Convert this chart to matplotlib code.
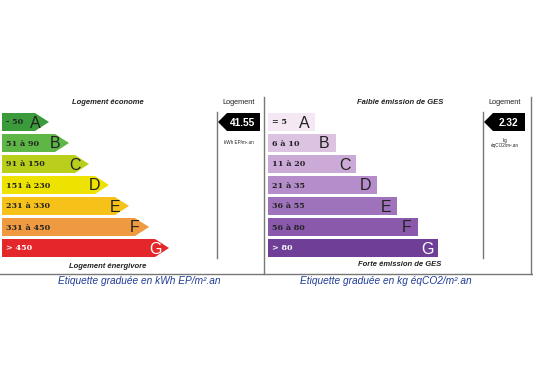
import matplotlib.pyplot as plt
from matplotlib.patches import Polygon

# Etiquette energie (DPE)
energie_classes = ["A", "B", "C", "D", "E", "F", "G"]
energie_tranches = ["- 50", "51 à 90", "91 à 150", "151 à 230", "231 à 330", "331 à 450", "> 450"]
energie_couleurs = ["#3b9b3b", "#5db645", "#b9cf1c", "#eee300", "#f6c21a", "#ef9a40", "#e4272a"]
energie_valeur = "41.55"
energie_unite = "kWh EP/m².an"

# Etiquette GES
ges_classes = ["A", "B", "C", "D", "E", "F", "G"]
ges_tranches = ["= 5", "6 à 10", "11 à 20", "21 à 35", "36 à 55", "56 à 80", "> 80"]
ges_couleurs = ["#f3e8f3", "#dcc3e2", "#cbaad8", "#b48dca", "#9f73bb", "#8a59ac", "#6f3f98"]
ges_valeur = "2.32"
ges_unite = "kg\néqCO2/m².an"

fig = plt.figure(figsize=(5.33, 3.88), dpi=100)
ax = fig.add_axes([0, 0, 1, 1])
ax.set_xlim(0, 533)
ax.set_ylim(388, 0)
ax.axis("off")

haut = 18
pas = 21
y0 = 113
sans = "Liberation Sans"
serif = "DejaVu Serif"
gris = "#777777"
fs_tr = 5.8
fs_cl = 11.5

# --- panneau energie ---
for i, (cl, tr, c) in enumerate(zip(energie_classes, energie_tranches, energie_couleurs)):
    y = y0 + i * pas
    fin = 35 + 20 * i
    ax.barh(y + haut / 2, fin - 2, left=2, height=haut, color=c, lw=0)
    ax.add_patch(Polygon([(fin, y), (fin + 14, y + haut / 2), (fin, y + haut)],
                         closed=True, color=c, lw=0))
    tc = "white" if cl == "G" else "#222222"
    ax.text(6, y + haut / 2 + 0.5, tr, fontsize=fs_tr, family=serif, weight="bold",
            color=tc, va="center", ha="left")
    ax.text(fin, y + haut / 2 + 1, cl, fontsize=fs_cl, family=sans,
            color=tc, va="center", ha="center")

ax.text(108, 103, "Logement économe", fontsize=5.5, family=sans, style="italic",
        weight="bold", ha="center", va="center", color="#222222")
ax.text(108, 266, "Logement énergivore", fontsize=5.5, family=sans, style="italic",
        weight="bold", ha="center", va="center", color="#222222")
ax.text(239, 103, "Logement", fontsize=5.3, family=sans, ha="center", va="center", color="#222222")
ax.plot([217, 217], [112, 258], color=gris, lw=1)
ax.add_patch(Polygon([(218, 122), (227, 113), (260, 113), (260, 131), (227, 131)],
                     closed=True, color="black", lw=0))
ax.text(242, 122.5, energie_valeur, fontsize=7.3, family=sans, weight="bold",
        color="white", ha="center", va="center")
ax.text(239, 143, energie_unite, fontsize=3.3, family=sans, ha="center", va="center",
        color="#222222")

# --- panneau GES ---
for i, (cl, tr, c) in enumerate(zip(ges_classes, ges_tranches, ges_couleurs)):
    y = y0 + i * pas
    fin = 315 + 20.5 * i
    ax.barh(y + haut / 2, fin - 268, left=268, height=haut, color=c, lw=0)
    tc = "white" if cl == "G" else "#222222"
    ax.text(272, y + haut / 2 + 0.5, tr, fontsize=fs_tr, family=serif, weight="bold",
            color=tc, va="center", ha="left")
    ax.text(fin - 11, y + haut / 2 + 1, cl, fontsize=fs_cl, family=sans,
            color=tc, va="center", ha="center")

ax.text(400, 103, "Faible émission de GES", fontsize=5.5, family=sans, style="italic",
        weight="bold", ha="center", va="center", color="#222222")
ax.text(400, 265, "Forte émission de GES", fontsize=5.5, family=sans, style="italic",
        weight="bold", ha="center", va="center", color="#222222")
ax.text(505, 103, "Logement", fontsize=5.3, family=sans, ha="center", va="center", color="#222222")
ax.plot([483, 483], [112, 258], color=gris, lw=1)
ax.add_patch(Polygon([(484, 122), (493, 113), (525, 113), (525, 131), (493, 131)],
                     closed=True, color="black", lw=0))
ax.text(508, 122.5, ges_valeur, fontsize=7.3, family=sans, weight="bold",
        color="white", ha="center", va="center")
ax.text(505, 143, ges_unite, fontsize=3.3, family=sans, ha="center", va="center",
        color="#222222", linespacing=0.9)

# cadres
ax.plot([264, 264], [97, 274], color=gris, lw=1)
ax.plot([531, 531], [97, 274], color=gris, lw=1)
ax.plot([0, 533], [274, 274], color=gris, lw=1)

# legendes
bleu = "#1f3c96"
ax.text(139, 281, "Etiquette graduée en kWh EP/m².an", fontsize=7.3, family=sans,
        style="italic", color=bleu, ha="center", va="center")
ax.text(386, 281, "Etiquette graduée en kg éqCO2/m².an", fontsize=7.3, family=sans,
        style="italic", color=bleu, ha="center", va="center")

fig.savefig("out.png", dpi=100)
